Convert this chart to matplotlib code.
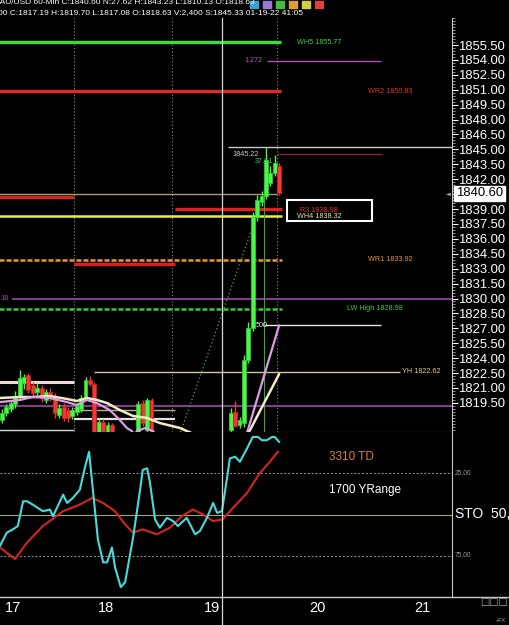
import numpy as np
import matplotlib
matplotlib.use("Agg")
import matplotlib.pyplot as plt
import matplotlib.transforms as mtransforms
from matplotlib.lines import Line2D
from matplotlib.patches import Rectangle
from matplotlib.ticker import MultipleLocator

plt.rcParams['font.family'] = ['Liberation Sans', 'DejaVu Sans']

# hourly XAU/USD bars, index 0 = first bar on screen
opens = [1817.8, 1818.5, 1818.9, 1819.4, 1820.1, 1821.5, 1822.3, 1821.3, 1820.6, 1821.0,
         1819.8, 1820.6, 1820.2, 1818.3, 1819.1, 1818.8, 1818.2, 1818.6, 1818.9, 1820.1,
         1821.8, 1821.4, 1816.4, 1817.6, 1816.3, 1817.3, 1816.0, 1815.0, 1814.2, 1814.8,
         1815.3, 1816.4, 1819.5, 1816.8, 1819.8, 1816.0, 1814.8, 1813.9, 1814.5, 1813.2,
         1812.4, 1811.6, 1812.0, 1811.0, 1810.6, 1811.5, 1812.3, 1812.0, 1813.0, 1814.2,
         1815.0, 1815.6, 1816.8, 1818.63, 1817.3, 1817.5, 1823.8, 1827.0, 1838.2, 1839.7,
         1840.3, 1841.6, 1842.6, 1843.3]
highs = [1818.9, 1819.4, 1819.8, 1820.7, 1822.8, 1822.4, 1822.5, 1821.6, 1821.5, 1821.3,
         1820.9, 1821.0, 1820.5, 1819.4, 1819.5, 1819.1, 1819.1, 1819.5, 1820.3, 1822.1,
         1822.2, 1821.6, 1817.9, 1817.9, 1817.6, 1817.5, 1816.3, 1815.4, 1815.2, 1815.8,
         1816.4, 1819.7, 1819.8, 1820.0, 1820.0, 1816.2, 1815.2, 1814.9, 1814.8, 1813.6,
         1812.8, 1812.4, 1812.3, 1811.4, 1811.8, 1812.6, 1812.7, 1813.3, 1814.5, 1815.6,
         1816.2, 1816.5, 1819.0, 1819.70, 1818.1, 1824.3, 1827.6, 1838.7, 1840.4, 1840.8,
         1845.2, 1843.3, 1844.4, 1843.6]
lows = [1817.5, 1818.2, 1818.6, 1819.0, 1819.8, 1820.9, 1820.5, 1820.2, 1820.3, 1819.6,
        1819.5, 1819.7, 1818.0, 1818.0, 1817.7, 1817.6, 1817.9, 1818.3, 1818.6, 1819.8,
        1821.2, 1815.5, 1816.0, 1816.0, 1816.0, 1815.9, 1814.6, 1813.8, 1813.9, 1814.5,
        1815.0, 1816.1, 1817.2, 1816.5, 1815.7, 1814.3, 1813.5, 1813.6, 1812.9, 1812.0,
        1811.2, 1811.0, 1810.5, 1810.1, 1810.3, 1811.2, 1811.6, 1811.8, 1812.8, 1813.9,
        1814.7, 1815.3, 1816.4, 1817.08, 1817.0, 1817.1, 1823.5, 1826.7, 1837.8, 1839.3,
        1840.0, 1841.3, 1842.3, 1840.4]
closes = [1818.5, 1819.1, 1819.5, 1820.0, 1822.0, 1822.1, 1820.8, 1820.5, 1821.0, 1820.0,
          1820.6, 1820.0, 1818.5, 1819.0, 1818.0, 1818.0, 1818.8, 1819.2, 1820.0, 1821.8,
          1821.4, 1815.8, 1817.6, 1816.3, 1817.3, 1816.2, 1815.0, 1814.2, 1814.8, 1815.3,
          1816.2, 1819.4, 1817.5, 1819.8, 1816.0, 1814.8, 1813.9, 1814.5, 1813.2, 1812.4,
          1811.6, 1812.0, 1811.0, 1810.6, 1811.5, 1812.3, 1812.0, 1813.0, 1814.2, 1815.0,
          1815.6, 1816.2, 1818.5, 1817.19, 1817.8, 1823.8, 1827.0, 1838.2, 1839.9, 1840.3,
          1843.9, 1842.6, 1843.6, 1840.6]
last_price = 1840.60

# moving averages (bar position, price)
ma_slow_x = [-0.45, 4.1, 7.0, 10.9, 14.8, 17.0, 19.3, 21.6, 23.9, 26.8, 29.8, 33.0, 35.9,
             40.5, 42.0, 46.0, 50.0, 54.0, 56.4, 63.0]
ma_slow_y = [1819.99, 1820.09, 1820.09, 1820.19, 1819.89, 1819.69, 1819.99, 1819.79, 1819.48,
             1818.78, 1818.18, 1817.98, 1817.47, 1816.97, 1816.67, 1815.9, 1815.3, 1815.4,
             1816.77, 1822.4]
ma_fast_x = [-0.45, 4.1, 7.0, 10.9, 14.8, 17.0, 19.3, 21.6, 24.5, 26.8, 28.4, 29.5, 30.1,
             30.7, 32.5, 34.3, 35.5, 40.0, 48.0, 54.0, 55.9, 63.0]
ma_fast_y = [1819.58, 1819.79, 1820.09, 1819.99, 1819.58, 1819.28, 1819.79, 1819.48, 1818.78,
             1817.77, 1816.97, 1816.67, 1816.3, 1816.67, 1816.97, 1816.67, 1816.0, 1814.2,
             1813.5, 1814.8, 1816.77, 1827.3]

# key levels
level_names = ['WH5', 'WR2', 'R3', 'WH4', 'WR1', 'LW High', 'YH']
level_values = [1855.77, 1850.83, 1838.98, 1838.32, 1833.92, 1828.98, 1822.62]
fib_272 = 1853.9
fib_500 = 1827.3
swing_high = 1845.22
swing_move = 37.61

# stochastic
sto_k_x = [-0.45, 1.1, 2.5, 3.6, 4.8, 5.7, 7.0, 9.3, 10.9, 11.6, 13.9, 14.8, 16.1, 17.7, 18.9,
           19.8, 20.7, 21.8, 23.0, 23.9, 25.0, 25.7, 27.0, 28.0, 29.8, 31.4, 32.0, 33.0, 33.6,
           34.8, 35.9, 37.5, 38.9, 40.0, 42.0, 43.9, 45.0, 46.6, 48.0, 48.9, 50.0, 51.1, 51.8,
           53.0, 54.1, 55.7, 57.0, 58.2, 59.1, 60.2, 61.4, 62.0, 63.0]
sto_k = [69, 61, 59, 57, 42, 42, 44, 48, 47, 51, 38, 43, 40, 35, 21, 12, 36, 65, 79, 79,
         70, 82, 94, 91, 64, 35, 23, 22, 30, 53, 58, 52, 54, 57, 52, 62, 60, 52, 43, 49,
         48, 29, 16, 15, 18, 10, 3, 3, 5, 5, 3, 3, 6]
sto_d_x = [-0.45, 2.95, 5.7, 9.3, 13.9, 17.7, 20.5, 23.0, 25.7, 28.0, 29.8, 32.0, 35.2, 38.2,
           40.9, 43.4, 45.7, 48.0, 50.2, 52.5, 55.7, 58.6, 60.9, 62.7]
sto_d = [70, 77, 67, 57, 48, 44, 40, 43, 48, 56, 61, 59, 62, 58, 51, 47, 50, 54, 53, 46,
         37, 25, 18, 12]

date_pos = [2.4, 23.6, 47.7, 71.8, 95.6]
date_labels = ['17', '18', '19', '20', '21']
session_lines = [16.4, 38.6, 62.5]
cursor_bar = 50

XLIM = (-0.45, 102.3)

fig = plt.figure(figsize=(5.09, 6.25), dpi=100, facecolor='black')
ax = fig.add_axes([0, 193 / 625, 452 / 509, 414 / 625], facecolor='black')
st = fig.add_axes([0, 28 / 625, 452 / 509, 165 / 625], facecolor='black')

# ---------------- price panel ----------------
ax.set_xlim(*XLIM)
ax.set_ylim(1816.57, 1858.22)

for x in session_lines:
    ax.axvline(x, color='#8c8c8c', lw=0.8, ls=(0, (1, 2)), zorder=1)

thick = 2.4
ax.hlines(level_values[0], -1, 63.4, color='#36e036', lw=thick, zorder=3)
ax.hlines(level_values[1], -1, 63.4, color='#e02828', lw=thick, zorder=3)
ax.hlines(level_values[2], 39.3, 63.6, color='#e02020', lw=thick, zorder=3)
ax.hlines(level_values[3], -1, 63.6, color='#ecec40', lw=1.8, zorder=3)
ax.hlines(level_values[4], -1, 63.6, color='#e89a30', lw=1.8, ls=(0, (2, 0.8)), zorder=3)
ax.hlines(level_values[5], -1, 63.6, color='#3cc83c', lw=1.8, ls=(0, (2, 0.8)), zorder=3)
ax.hlines(level_values[6], 20.9, 90.4, color='#cfc79a', lw=1.0, zorder=3)

ax.hlines(fib_272, 60.2, 86.1, color='#b050b8', lw=1.0, zorder=3)
ax.hlines(fib_500, 59.3, 86.1, color='#e6e6e6', lw=1.0, zorder=3)
ax.hlines(swing_high, 51.4, 103, color='#c8c8c8', lw=1.0, zorder=3)
ax.hlines(1844.5, 62.5, 86.4, color='#8a2626', lw=1.0, zorder=3)
ax.hlines(1840.5, -1, 62.5, color='#a49e78', lw=1.0, zorder=3)
ax.hlines(1840.2, -1, 16.4, color='#d82222', lw=thick, zorder=3)
ax.hlines(1833.47, 16.4, 39.3, color='#d82222', lw=thick, zorder=3)
ax.hlines(1830.0, 2.3, 103, color='#8a3a9a', lw=1.4, zorder=3)
ax.hlines(1819.18, -1, 103, color='#8a3a9a', lw=1.4, zorder=3)
ax.hlines(1821.6, -1, 16.4, color='#ecdada', lw=2.2, zorder=3)
ax.hlines(1816.8, -1, 16.4, color='#d8d8d8', lw=1.0, zorder=3)
ax.hlines(1818.8, 16.4, 39.3, color='#b8b490', lw=1.0, zorder=3)
ax.hlines(1817.9, 16.4, 39.3, color='#e6e0e0', lw=1.6, zorder=3)

# trend lines around the rally
ax.plot([40.6, 59.1], [1816.57, 1839.9], color='#46b046', lw=0.9, ls=(0, (1, 2)), zorder=4)
ax.vlines(59.6, 1816.57, 1841.6, color='#2fae2f', lw=0.8, zorder=4)

# candles
o, h, l, c = map(np.array, (opens, highs, lows, closes))
idx = np.arange(len(o))
up = c >= o
face = np.where(up, '#4cf54c', '#f43636')
edge = np.where(up, '#2ccc2c', '#c81e1e')
ax.vlines(idx, l, h, colors=face, lw=1.0, zorder=5)
ax.bar(idx, np.maximum(np.abs(c - o), 0.15), bottom=np.minimum(o, c), width=0.88,
       color=face, edgecolor=edge, lw=0.6, zorder=6)

# moving averages
ax.plot(ma_slow_x, ma_slow_y, color='#f3ebc4', lw=1.8, zorder=7, solid_capstyle='round')
ax.plot(ma_fast_x, ma_fast_y, color='#dc9ee6', lw=1.6, zorder=7, solid_capstyle='round')

# level labels
fs = 5.2
def tag(x, y, s, color):
    ax.text(x, y, s, color=color, fontsize=fs, va='center', ha='left', zorder=9)

tag(67.0, level_values[0], f"{level_names[0]} {level_values[0]:.2f}", '#44d044')
tag(55.2, fib_272, "1.272", '#b458bc')
tag(83.2, level_values[1], f"{level_names[1]} {level_values[1]:.2f}", '#e03030')
tag(52.3, 1844.45, f"{swing_high:.2f}", '#cfcfcf')
tag(57.5, 1843.8, f"{swing_move:.2f}", '#52c452')
tag(67.7, 1838.9, f"{level_names[2]} {level_values[2]:.2f}", '#d83030')
tag(67.0, 1838.25, f"{level_names[3]} {level_values[3]:.2f}", '#e6e6a8')
tag(83.2, level_values[4], f"{level_names[4]} {level_values[4]:.2f}", '#e8962e')
tag(-0.45, 1830.0, "18", '#a050b0')
tag(78.4, level_values[5], f"{level_names[5]} {level_values[5]:.2f}", '#44c844')
tag(57.6, fib_500, "500", '#e6e6e6')
tag(90.9, level_values[6], f"{level_names[6]} {level_values[6]:.2f}", '#d8d0a0')

ax.add_patch(Rectangle((64.8, 1837.75), 19.3, 2.15, fill=False, ec='white', lw=1.5, zorder=9))

# right price scale
ax.yaxis.tick_right()
ax.set_yticks(np.arange(1819.5, 1855.6, 1.5))
ax.set_yticklabels([f"{v:.2f}" for v in np.arange(1819.5, 1855.6, 1.5)])
ax.yaxis.set_minor_locator(MultipleLocator(0.3))
ax.tick_params(axis='y', which='major', colors='white', labelsize=9.4, length=4, width=0.8, pad=0.3)
ax.tick_params(axis='y', which='minor', colors='#aaaaaa', length=2, width=0.6)
ax.tick_params(axis='x', bottom=False, labelbottom=False)
for s in ('left', 'top'):
    ax.spines[s].set_visible(False)
ax.spines['right'].set_color('#c8c8c8')
ax.spines['bottom'].set_color('#a0a0a0')

yx = mtransforms.blended_transform_factory(ax.transAxes, ax.transData)
ax.text(1 + 4 / 452, last_price, f"{last_price:.2f}", transform=yx, color='black', fontsize=9.4,
        va='center', ha='left', zorder=10,
        bbox=dict(boxstyle='square,pad=0.12', fc='white', ec='white'), clip_on=False)
ax.text(1 - 1 / 452, last_price, "◄", transform=yx, color='#bbbbbb', fontsize=4.5,
        va='center', ha='right', family='DejaVu Sans', zorder=10)

# ---------------- stochastic panel ----------------
st.set_xlim(*XLIM)
st.set_ylim(100, 0)
st.axhline(25, color='#9a9a9a', lw=0.7, ls=(0, (2, 2)))
st.axhline(75, color='#9a9a9a', lw=0.7, ls=(0, (2, 2)))
st.axhline(50, color='#9aa67e', lw=0.8)
st.plot(sto_d_x, sto_d, color='#d42424', lw=1.5, zorder=4)
st.plot(sto_k_x, sto_k, color='#46dcdc', lw=1.5, zorder=5)

st.text(74.3, 15.4, "3310 TD", color='#d8803c', fontsize=8.5, va='center', ha='left')
st.text(74.3, 35.2, "1700 YRange", color='white', fontsize=8.5, va='center', ha='left')

sx = mtransforms.blended_transform_factory(st.transAxes, st.transData)
st.text(1 + 3 / 452, 25, "25.00", transform=sx, color='#9a9a9a', fontsize=4.8, va='center', ha='left')
st.text(1 + 3 / 452, 75, "75.00", transform=sx, color='#9a9a9a', fontsize=4.8, va='center', ha='left')
st.text(1 + 3 / 452, 50, "STO  50,", transform=sx, color='white', fontsize=10, va='center',
        ha='left', clip_on=False)

st.set_yticks([])
st.set_xticks(date_pos)
st.set_xticklabels(date_labels)
st.tick_params(axis='x', colors='white', labelsize=10.5, length=0, pad=3)
for s in ('left', 'top', 'bottom'):
    st.spines[s].set_visible(False)
st.spines['right'].set_color('#c8c8c8')

# bottom rule across the full width
fig.add_artist(Line2D([0, 1], [28 / 625, 28 / 625], color='#c8c8c8', lw=1.0))

# cursor line through both panels
xf = fig.transFigure.inverted().transform(ax.transData.transform((cursor_bar, 1830)))[0]
fig.add_artist(Line2D([xf, xf], [0, 607 / 625], color='#d8d8d8', lw=0.9, zorder=0.5))

# header
fig.text(-6 / 509, 1 - 3.5 / 625,
         "XAU/USD 60-Min C:1840.60 N:27.62 H:1843.23 L:1810.13 O:1818.63",
         color='white', fontsize=6, va='baseline', ha='left')
fig.text(-2 / 509, 1 - 13 / 625,
         "00 C:1817.19 H:1819.70 L:1817.08 O:1818.63 V:2,400 S:1845.33 01-19-22 41:05",
         color='white', fontsize=6, va='center', ha='left')
icon_colors = ['#3aa0d8', '#9a7ad0', '#40c040', '#e0a030', '#d0d040', '#e04040']
for k, col in enumerate(icon_colors):
    fig.add_artist(Rectangle(((250 + k * 13) / 509, 1 - 8 / 625), 8 / 509, 7 / 625,
                             color=col, transform=fig.transFigure, zorder=3))

fig.text(480 / 509, 1 - 602 / 625, "□□□", color='#aaaaaa', fontsize=7, va='center', ha='left',
         family='DejaVu Sans')
fig.text(496 / 509, 1 - 621 / 625, "+FX", color='#aaaaaa', fontsize=4, va='center', ha='left')

fig.savefig('out.png', dpi=100, facecolor='black')
